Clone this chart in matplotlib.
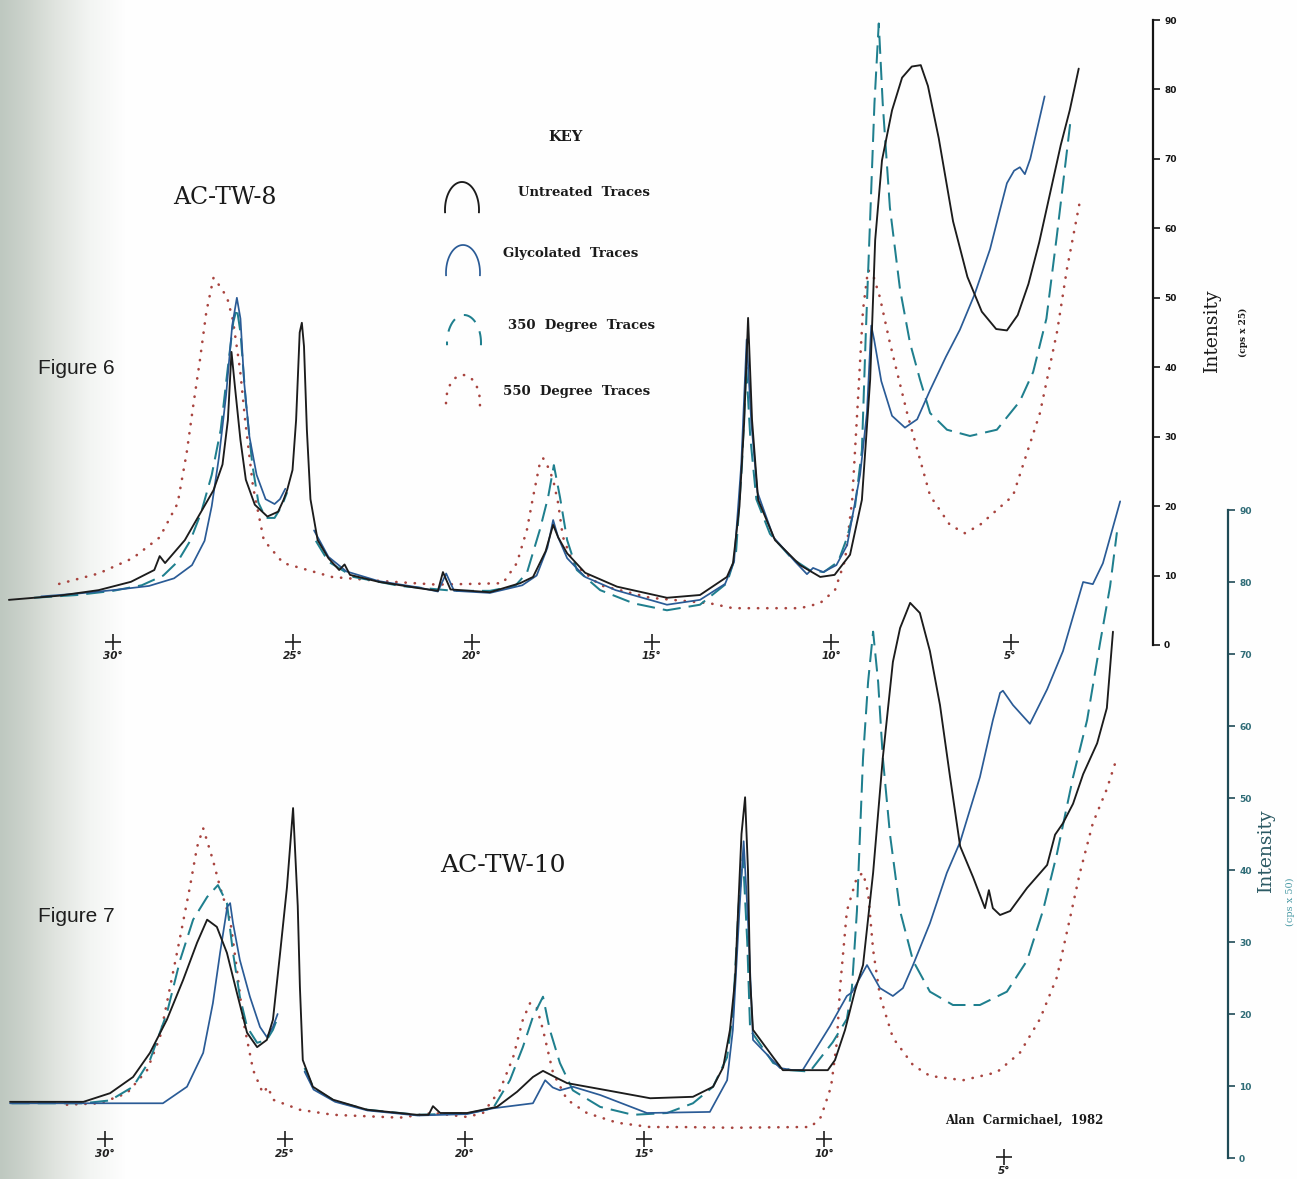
import numpy as np
import matplotlib
matplotlib.use("Agg")
import matplotlib.pyplot as plt

nan = float("nan")

# ---------------- DATA (2-theta degrees, intensity) ----------------
deg_ticks = [30, 25, 20, 15, 10, 5]
int_ticks = [0, 10, 20, 30, 40, 50, 60, 70, 80, 90]

# Figure 6 (AC-TW-8), intensity in cps x 25
f6_untreated = [(32.9,6.5),(31.5,7.1),(30.4,7.9),(29.5,9.1),(28.85,10.8),(28.7,12.8),(28.55,11.8),(28.0,15.1),
    (27.6,18.7),(27.2,22.3),(26.95,26.0),(26.8,32.4),(26.7,42.2),(26.6,37.0),(26.45,29.5),(26.3,23.8),(26.05,20.2),
    (25.7,18.5),(25.4,19.2),(25.25,20.9),(25.15,22.3),(25.0,25.2),(24.9,32.4),(24.8,45.0),(24.74,46.4),(24.68,43.0),
    (24.6,31.0),(24.5,21.0),(24.3,15.1),(24.0,12.5),(23.7,10.8),(23.55,11.6),(23.4,10.1),(22.6,9.1),(21.5,8.2),
    (20.95,7.8),(20.81,10.5),(20.6,8.0),(19.5,7.6),(18.66,8.9),(18.3,9.8),(17.95,13.5),(17.74,17.3),(17.6,15.5),
    (17.35,13.2),(16.85,10.4),(15.96,8.4),(14.57,6.8),(13.65,7.2),(12.9,9.8),(12.73,11.8),(12.55,20.0),(12.42,32.0),
    (12.31,47.1),(12.2,32.4),(12.03,20.9),(11.56,15.1),(10.86,11.5),(10.3,9.8),(9.9,10.1),(9.47,13.0),(9.14,20.9),
    (8.91,38.2),(8.77,58.3),(8.58,69.8),(8.3,77.0),(8.02,81.7),(7.75,83.3),(7.5,83.5),(7.3,80.5),(7.0,73.0),
    (6.6,61.0),(6.2,53.0),(5.8,48.0),(5.4,45.5),(5.1,45.3),(4.8,47.5),(4.5,52.0),(4.2,58.0),(3.9,65.0),(3.6,72.0),
    (3.35,77.0),(3.1,83.0)]
f6_glycolated = [(32.0,7.0),(31.0,7.4),(30.0,7.9),(29.0,8.5),(28.3,9.6),(27.8,11.5),(27.45,15.0),(27.25,20.0),
    (27.05,27.0),(26.85,36.0),(26.68,46.0),(26.55,50.0),(26.45,47.0),(26.35,38.0),(26.2,30.0),(26.0,24.5),
    (25.75,21.0),(25.5,20.3),(25.35,21.0),(25.2,22.5),(nan,nan),(24.4,16.5),(24.0,12.7),(23.5,10.6),(22.6,9.2),
    (21.5,8.3),(20.95,7.7),(20.72,10.3),(20.5,7.8),(19.5,7.5),(18.6,8.6),(18.2,10.0),(17.9,14.0),(17.74,18.0),
    (17.6,15.5),(17.35,12.5),(16.85,9.8),(16.0,7.9),(14.57,5.8),(13.65,6.5),(12.95,8.8),(12.7,12.0),(12.5,26.0),
    (12.35,44.0),(12.22,32.0),(12.05,22.0),(11.6,15.5),(11.0,12.0),(10.67,10.2),(10.5,11.1),(10.22,10.5),
    (9.85,11.5),(9.55,14.4),(9.19,24.5),(9.0,33.4),(8.88,46.0),(8.8,44.0),(8.6,38.0),(8.3,33.0),(7.94,31.3),
    (7.6,32.5),(7.24,36.7),(6.8,41.5),(6.41,45.4),(6.0,50.5),(5.57,57.0),(5.3,62.5),(5.1,66.5),(4.9,68.3),
    (4.74,68.8),(4.6,67.8),(4.45,70.0),(4.25,74.5),(4.05,79.0)]
f6_350 = [(32.2,6.8),(31.0,7.2),(30.0,7.8),(29.2,8.6),(28.6,10.0),(28.2,12.0),(27.85,15.0),(27.55,19.0),
    (27.25,24.5),(27.0,31.0),(26.8,40.0),(26.65,46.5),(26.55,48.5),(26.45,45.0),(26.3,35.0),(26.12,26.0),
    (25.95,20.5),(25.75,18.3),(25.5,18.3),(25.3,20.0),(25.15,22.0),(nan,nan),(24.35,15.0),(24.0,12.0),(23.3,9.8),
    (22.0,8.5),(20.5,7.8),(19.5,7.8),(18.8,8.5),(18.47,10.4),(18.11,16.6),(17.88,21.3),(17.72,25.9),(17.55,21.3),
    (17.35,15.1),(17.08,10.8),(16.43,7.9),(15.5,6.0),(14.57,5.0),(13.65,5.8),(12.9,8.9),(12.65,13.0),(12.48,26.0),
    (12.36,40.0),(12.25,30.0),(12.08,21.0),(11.7,16.0),(11.1,12.5),(10.6,10.8),(10.2,10.5),(9.8,12.0),(9.55,15.5),
    (9.33,20.0),(9.14,28.0),(9.03,45.0),(8.92,60.0),(8.79,78.0),(8.67,89.5),(8.56,78.0),(8.36,63.0),(8.08,51.3),
    (7.8,43.5),(7.52,38.2),(7.24,33.4),(6.77,31.0),(6.13,30.1),(5.38,31.0),(4.74,35.1),(4.37,39.3),(4.0,47.0),
    (3.71,58.9),(3.34,75.0)]
f6_550 = [(31.5,8.8),(30.4,10.3),(29.45,12.5),(28.7,15.5),(28.2,20.4),(27.95,27.6),(27.77,34.3),(27.58,41.0),
    (27.4,48.0),(27.2,52.9),(27.0,51.5),(26.82,50.0),(26.66,46.8),(26.46,39.6),(26.32,32.4),(26.1,22.8),
    (25.8,15.1),(25.26,11.8),(23.9,9.8),(22.5,9.2),(21.0,8.7),(20.0,8.8),(19.14,8.9),(18.75,11.8),(18.47,16.6),
    (18.3,21.3),(18.11,26.2),(18.02,26.9),(17.88,25.6),(17.74,23.8),(17.6,20.4),(17.47,15.6),(17.19,11.8),
    (16.43,8.6),(15.04,6.8),(13.37,6.0),(12.73,5.3),(10.86,5.3),(10.31,6.0),(9.89,7.9),(9.61,12.2),(9.41,20.9),
    (9.25,35.3),(9.11,48.2),(8.97,54.0),(8.83,53.3),(8.64,50.1),(8.36,43.5),(7.88,33.4),(7.24,21.5),(6.69,17.3),
    (6.27,16.1),(5.85,17.3),(4.93,21.5),(4.18,33.4),(3.7,45.2),(3.43,54.1),(3.06,64.1)]

# Figure 7 (AC-TW-10), intensity in cps x 50
f7_untreated = [(32.64,7.8),(30.6,7.8),(29.86,9.0),(29.22,11.25),(28.75,14.6),(28.28,19.2),(27.83,24.7),
    (27.44,29.9),(27.16,33.1),(26.89,32.1),(26.61,28.5),(26.33,22.9),(26.05,17.4),(25.77,15.4),(25.5,16.4),
    (25.33,19.2),(25.13,28.5),(24.94,37.6),(24.77,48.6),(24.64,35.0),(24.58,23.75),(24.5,13.6),(24.22,9.9),
    (23.66,8.1),(22.71,6.7),(21.32,6.0),(21.0,6.0),(20.88,7.2),(20.68,6.25),(19.93,6.25),(19.1,7.1),(18.54,9.2),
    (18.1,11.25),(17.82,12.1),(17.43,11.1),(17.15,10.4),(16.04,9.4),(14.84,8.3),(13.65,8.5),(13.09,9.9),
    (12.81,12.6),(12.62,17.8),(12.48,24.7),(12.3,45.0),(12.2,50.1),(12.12,40.0),(12.06,24.7),(11.98,17.8),
    (11.42,14.0),(11.15,12.2),(10.67,12.2),(9.9,12.2),(9.7,13.6),(9.42,17.8),(9.14,23.3),(8.92,26.8),(8.64,39.6),
    (8.37,55.6),(8.09,68.9),(7.89,73.6),(7.61,77.1),(7.34,75.7),(7.06,70.4),(6.78,62.9),(6.5,52.9),(6.22,43.3),
    (5.86,39.0),(5.53,34.7),(5.42,37.2),(5.31,34.7),(5.11,33.75),(4.83,34.3),(4.36,37.5),(3.8,40.7),(3.58,44.9),
    (3.36,46.5),(3.08,49.2),(2.8,53.3),(2.41,57.6),(2.14,62.5),(1.97,73.1)]
f7_glycolated = [(32.64,7.6),(28.39,7.6),(27.72,9.9),(27.27,14.6),(27.0,21.5),(26.8,28.5),(26.6,34.9),
    (26.52,35.4),(26.44,32.6),(26.25,27.5),(25.97,22.4),(25.69,18.2),(25.5,16.8),(25.33,18.2),(25.2,20.0),
    (nan,nan),(24.45,12.0),(24.2,9.5),(23.6,7.8),(22.7,6.6),(21.3,5.9),(19.93,6.1),(19.21,6.9),(18.1,7.6),
    (17.76,10.8),(17.55,9.8),(17.35,9.4),(16.99,9.9),(16.23,8.75),(14.93,6.25),(13.18,6.4),(12.7,10.8),
    (12.54,17.8),(12.35,35.0),(12.24,44.0),(12.12,33.0),(11.98,16.4),(11.23,12.5),(10.87,12.2),(10.6,12.2),
    (9.84,18.3),(9.37,22.5),(9.23,23.0),(8.81,26.8),(8.45,23.6),(8.09,22.5),(7.81,23.6),(7.53,26.8),(7.06,32.6),
    (6.59,39.6),(6.22,43.9),(5.67,52.9),(5.31,60.8),(5.11,64.6),(5.03,64.9),(4.75,62.9),(4.28,60.3),(3.8,65.1),
    (3.36,70.4),(2.8,80.0),(2.53,79.7),(2.25,82.6),(1.77,91.2)]
f7_350 = [(32.6,7.6),(30.6,7.6),(29.86,8.0),(29.22,9.9),(28.75,13.6),(28.28,20.1),(27.91,27.5),(27.55,33.1),
    (27.16,36.25),(26.86,37.9),(26.61,35.4),(26.44,28.5),(26.25,22.4),(26.05,18.2),(25.77,16.0),(25.5,16.4),
    (25.33,17.8),(25.2,19.5),(nan,nan),(24.45,12.5),(24.2,9.7),(23.6,7.9),(22.7,6.7),(21.3,6.0),(19.93,6.2),
    (19.21,6.9),(18.74,10.8),(18.38,15.4),(18.1,19.6),(17.82,22.4),(17.63,17.8),(17.35,13.2),(16.99,9.4),
    (16.23,7.1),(15.32,6.0),(14.37,6.25),(13.65,7.6),(13.09,9.9),(12.7,14.0),(12.54,20.1),(12.38,35.0),
    (12.26,42.0),(12.14,30.0),(12.06,17.8),(11.42,13.2),(10.95,12.2),(10.4,12.0),(9.76,16.1),(9.37,19.3),
    (9.23,23.6),(9.09,34.3),(8.92,55.6),(8.78,66.1),(8.64,73.1),(8.5,66.1),(8.37,55.6),(8.17,44.9),(7.89,34.3),
    (7.53,27.4),(7.06,23.1),(6.42,21.25),(5.67,21.25),(4.92,23.1),(4.36,27.4),(3.92,34.3),(3.53,42.2),
    (3.08,52.9),(2.69,60.8),(2.33,71.5),(2.05,79.4),(1.86,86.9)]
f7_550 = [(31.06,7.4),(30.14,7.6),(29.39,9.0),(28.83,12.2),(28.47,16.8),(28.19,23.75),(27.91,30.7),(27.64,37.6),
    (27.44,43.2),(27.27,45.8),(27.0,41.4),(26.8,37.6),(26.52,33.1),(26.33,26.1),(26.16,19.2),(25.88,12.2),
    (25.61,9.0),(25.47,9.9),(25.33,8.1),(24.58,6.7),(23.66,6.0),(21.8,5.6),(20.88,6.25),(19.93,5.7),(19.49,6.25),
    (19.02,9.4),(18.65,14.0),(18.38,19.2),(18.18,21.5),(18.0,21.0),(17.82,17.8),(17.54,11.8),(17.15,8.1),
    (16.6,6.25),(15.76,4.9),(14.84,4.3),(13.93,4.3),(12.54,4.2),(10.67,4.3),(10.37,4.3),(10.09,5.7),(9.81,9.9),
    (9.65,16.0),(9.56,23.6),(9.37,34.3),(9.09,39.0),(8.92,39.6),(8.78,36.9),(8.64,28.9),(8.45,22.5),(8.09,16.7),
    (7.53,12.9),(7.06,11.4),(6.14,10.8),(5.2,11.9),(4.56,14.6),(4.0,19.3),(3.53,25.1),(3.17,33.2),(2.89,39.6),
    (2.53,46.5),(2.14,51.25),(1.86,55.6)]

key_labels = ["Untreated  Traces", "Glycolated  Traces", "350  Degree  Traces", "550  Degree  Traces"]

# ---------------- STYLES ----------------
C_UNT, C_GLY, C_350, C_550 = "#1c1c1c", "#2a5b96", "#1f7f8e", "#a8443f"
styles = [
    dict(color=C_UNT, lw=1.35, zorder=5),
    dict(color=C_GLY, lw=1.25, zorder=4),
    dict(color=C_350, lw=1.45, dashes=(9, 4), zorder=3),
    dict(color=C_550, lw=1.9, linestyle=(0, (0.1, 3.4)), dash_capstyle="round", zorder=2),
]

W, H = 1297, 1179
fig = plt.figure(figsize=(W / 100, H / 100), dpi=100)


def px_rect(x0, x1, y_top, y_bot):
    return [x0 / W, 1 - y_bot / H, (x1 - x0) / W, (y_bot - y_top) / H]


def ftext(x, y, s, **kw):
    fig.text(x / W, 1 - y / H, s, **kw)


# scanned-paper shading on the left edge
bg = fig.add_axes([0, 0, 1, 1], zorder=-10)
xs = np.arange(W)
sx = [0, 25, 55, 90, 125, W]
img = np.stack([np.interp(xs, sx, [190, 204, 224, 243, 254, 255]),
                np.interp(xs, sx, [200, 211, 228, 245, 254, 255]),
                np.interp(xs, sx, [192, 204, 223, 243, 254, 255])], axis=-1) / 255.0
bg.imshow(img[None, :, :], aspect="auto", extent=[0, 1, 0, 1])
bg.axis("off")

ax6 = fig.add_axes(px_rect(0, 1153, 20, 645))
ax6.set_xlim(33.148, 1.031)
ax7 = fig.add_axes(px_rect(0, 1228, 510, 1158))
ax7.set_xlim(32.92, -1.229)

panels = [
    (ax6, [f6_untreated, f6_glycolated, f6_350, f6_550], "#141414", "#141414", [0.45] * 6),
    (ax7, [f7_untreated, f7_glycolated, f7_350, f7_550], "#1f4b56", "#2f6c77", [2.6] * 5 + [0.2]),
]

for ax, series, spc, labc, cross_y in panels:
    ax.set_ylim(0, 90)
    ax.patch.set_alpha(0)
    for s in ("top", "left", "bottom"):
        ax.spines[s].set_visible(False)
    ax.spines["right"].set_color(spc)
    ax.spines["right"].set_linewidth(1.6)
    ax.spines["right"].set_bounds(0, 90)
    ax.yaxis.tick_right()
    ax.set_yticks(int_ticks)
    ax.set_yticklabels([str(v) for v in int_ticks])
    ax.tick_params(axis="y", direction="out", length=5, width=1.2, pad=3, color=spc,
                   labelcolor=labc, labelsize=6.5)
    for lab in ax.get_yticklabels():
        lab.set_fontweight("bold")
    ax.set_xticks([])
    for data, st in zip(series, styles):
        arr = np.array(data, dtype=float)
        ax.plot(arr[:, 0], arr[:, 1], clip_on=False, solid_capstyle="round", **st)
    for d, cy in zip(deg_ticks, cross_y):
        ax.plot([d], [cy], ls="none", marker="+", ms=11, mew=1.2, color="#202020", clip_on=False)
        ax.text(d, cy - 1.3, f"{d}°", ha="center", va="top", fontsize=7.5, style="italic",
                fontweight="bold", color="#202020", clip_on=False)

# key glyphs (overlay in pixel space)
kax = fig.add_axes([0, 0, 1, 1], zorder=6)
kax.set_xlim(0, W)
kax.set_ylim(H, 0)
kax.axis("off")
kax.patch.set_alpha(0)
t = np.linspace(-0.08, np.pi + 0.08, 80)
key_pos = [(462, 210), (463, 273), (464, 343), (463, 403)]
key_text_x = [518, 503, 508, 503]
key_text_y = [193, 254, 325, 391]
for (cx, yb), st, lab, tx, ty in zip(key_pos, styles, key_labels, key_text_x, key_text_y):
    kst = dict(st)
    if "dashes" in kst:
        kst["dashes"] = (7, 5)
    kax.plot(cx + 17 * np.cos(t), yb - 28 * np.sin(t), **kst)
    ftext(tx, ty, lab, ha="left", va="center", fontsize=9.5, fontweight="bold",
          family="DejaVu Serif", color="#1a1a1a")

ftext(565, 137, "KEY", ha="center", va="center", fontsize=10.5, fontweight="bold",
      family="DejaVu Serif", color="#1a1a1a")
ftext(173, 197, "AC-TW-8", ha="left", va="center", fontsize=17, family="DejaVu Serif", color="#1a1a1a")
ftext(440, 866, "AC-TW-10", ha="left", va="center", fontsize=18, family="DejaVu Serif", color="#1a1a1a")
ftext(38, 368, "Figure 6", ha="left", va="center", fontsize=15, family="Liberation Sans", color="#1e1e1e")
ftext(38, 916, "Figure 7", ha="left", va="center", fontsize=15, family="Liberation Sans", color="#1e1e1e")
ftext(945, 1120, "Alan  Carmichael,  1982", ha="left", va="center", fontsize=8.5, fontweight="bold",
      family="DejaVu Serif", color="#1a1a1a")

ftext(1212, 330, "Intensity", ha="center", va="center", rotation=90, fontsize=13.5,
      family="DejaVu Serif", color="#1a1a1a")
ftext(1243, 332, "(cps x 25)", ha="center", va="center", rotation=90, fontsize=6.5, fontweight="bold",
      family="DejaVu Serif", color="#1a1a1a")
ftext(1266, 850, "Intensity", ha="center", va="center", rotation=90, fontsize=13.5,
      family="DejaVu Serif", color="#2b5963")
ftext(1290, 902, "(cps x 50)", ha="center", va="center", rotation=90, fontsize=7,
      family="DejaVu Serif", color="#4a9aa5")

fig.savefig("out.png", dpi=100)
